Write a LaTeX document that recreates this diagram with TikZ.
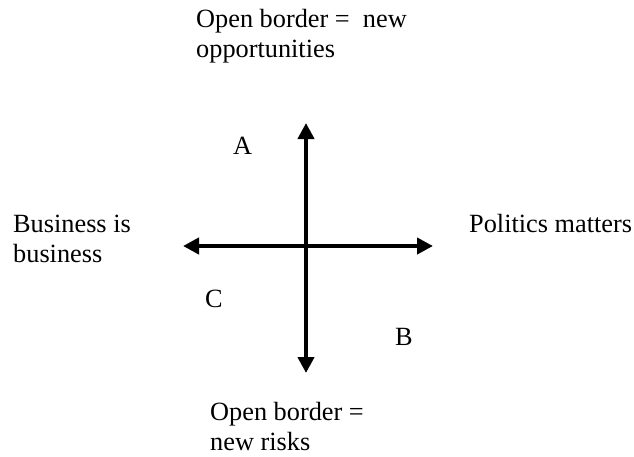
\documentclass[tikz,border=0pt]{standalone}
\usepackage{fontspec}
\setmainfont{Liberation Serif}
\usepackage{tikz}
\usetikzlibrary{arrows.meta}

\begin{document}
\begin{tikzpicture}[
    x=1pt, y=-1pt,
    font=\fontsize{26.3}{30}\selectfont,
    axisarrow/.style={{Triangle[length=16pt,width=16pt]}-{Triangle[length=16pt,width=16pt]}, line width=4pt},
    axistext/.style={anchor=base west, align=left, inner sep=0pt},
    quadrant/.style={anchor=base west, inner sep=0pt}
]
\useasboundingbox (0,0) rectangle (634,456);

%% AXIS END POINTS %%
\coordinate (top) at (306,123);
\coordinate (bottom) at (306,373);
\coordinate (left) at (183,246);
\coordinate (right) at (433,246);

%% AXES %%
\draw [axisarrow] (bottom) -- (top);
\draw [axisarrow] (left) -- (right);

%% AXIS TEXTS (base = last line) %%
\node (opportunities) [axistext] at (196,57) {Open border =~~new\\opportunities};
\node (business) [axistext] at (13,262) {Business is\\business};
\node (politics) [axistext] at (469,232) {Politics matters};
\node (risks) [axistext] at (210,450) {Open border =\\new risks};

%% QUADRANTS %%
\node (qa) [quadrant] at (233,154) {A};
\node (qc) [quadrant] at (205,307) {C};
\node (qb) [quadrant] at (395,345) {B};

\end{tikzpicture}
\end{document}
